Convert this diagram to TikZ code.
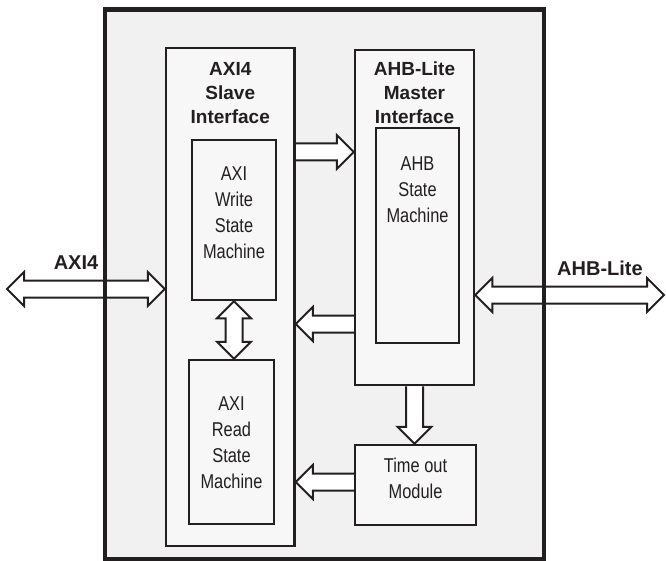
\documentclass[tikz,border=0pt]{standalone}
\usepackage{fontspec}
\setmainfont{Liberation Sans}
\newfontfamily\narrowsf[FakeStretch=0.82]{Liberation Sans}
\usetikzlibrary{calc,positioning}

\definecolor{chipgray}{HTML}{F1F1F1}
\definecolor{boxgray}{HTML}{F7F7F7}
\definecolor{ink}{HTML}{231F20}

\pgfdeclarelayer{back}
\pgfdeclarelayer{arrows}
\pgfsetlayers{back,arrows,main}

\tikzset{
  block/.style={draw=ink, line width=2.5pt, fill=boxgray, inner sep=0pt},
  title/.style={font=\fontsize{19}{24}\selectfont\bfseries, align=center, inner sep=0pt, text=ink},
  smtext/.style={font=\narrowsf\fontsize{20}{26}\selectfont, align=center, inner sep=0pt, text=ink},
  extlabel/.style={font=\fontsize{20}{24}\selectfont\bfseries, inner sep=0pt, text=ink},
  fat/.style={draw=ink, line width=2pt, fill=white, line join=miter}
}

% block arrow, head at #2
\newcommand{\fatarrow}[2]{%
  \coordinate (hb) at ($(#2)!17pt!(#1)$);
  \filldraw[fat] ($(#1)!8.5pt!90:(#2)$) -- ($(hb)!8.5pt!90:(#2)$) -- ($(hb)!17pt!90:(#2)$) -- (#2)
    -- ($(hb)!17pt!-90:(#2)$) -- ($(hb)!8.5pt!-90:(#2)$) -- ($(#1)!8.5pt!-90:(#2)$);}
% block arrow, heads at both ends
\newcommand{\fatdarrow}[2]{%
  \coordinate (ha) at ($(#1)!17pt!(#2)$);
  \coordinate (hb) at ($(#2)!17pt!(#1)$);
  \filldraw[fat] (#1) -- ($(ha)!17pt!90:(#2)$) -- ($(ha)!8.5pt!90:(#2)$) -- ($(hb)!8.5pt!90:(#2)$)
    -- ($(hb)!17pt!90:(#2)$) -- (#2) -- ($(hb)!17pt!-90:(#2)$) -- ($(hb)!8.5pt!-90:(#2)$)
    -- ($(ha)!8.5pt!-90:(#2)$) -- ($(ha)!17pt!-90:(#2)$) -- cycle;}

\begin{document}
\begin{tikzpicture}[x=1pt,y=-1pt]
\useasboundingbox (0,0) rectangle (666,561);
\node[draw=ink, line width=4.5pt, minimum width=439pt, minimum height=549.5pt, inner sep=0pt] (chip) at (324.5,284.3) {};
\node[block, minimum width=128.5pt, minimum height=498pt] (slave)   at (230.25,297) {};
\node[block, minimum width=84pt,  minimum height=160pt]   (wsm)     at (234,220) {};
\node[block, minimum width=85pt,  minimum height=164pt]   (rsm)     at (231.5,442) {};
\node[block, minimum width=119pt, minimum height=335pt]   (master)  at (414.5,217.5) {};
\node[block, minimum width=83pt,  minimum height=215pt]   (ahbsm)   at (417.5,235.5) {};
\node[block, minimum width=121pt, minimum height=80pt]    (timeout) at (415.5,485) {};

\node[title, below=15pt of slave.north]  (slavetitle)  {AXI4\\Slave\\Interface};
\node[title, below=13pt of master.north] (mastertitle) {AHB-Lite\\Master\\Interface};
\node[smtext, below=28pt of wsm.north]     (wsmtext)     {AXI\\Write\\State\\Machine};
\node[smtext, below=38pt of rsm.north]     (rsmtext)     {AXI\\Read\\State\\Machine};
\node[smtext, below=30pt of ahbsm.north]   (ahbsmtext)   {AHB\\State\\Machine};
\node[smtext, below=14pt of timeout.north] (timeouttext) {Time out\\Module};

\node[extlabel] (axilbl) at (76,263) {AXI4};
\node[extlabel] (ahblbl) at (600,268) {AHB-Lite};

\coordinate (axiA) at (7,289);
\coordinate (axiB) at (slave.west |- 0,289);
\coordinate (ahbA) at (master.east |- 0,295);
\coordinate (ahbB) at (664,295);
\coordinate (s2mA) at (slave.east |- 0,152);
\coordinate (s2mB) at (master.west |- 0,152);
\coordinate (m2sA) at (master.west |- 0,324);
\coordinate (m2sB) at (slave.east |- 0,324);
\coordinate (wrA) at (wsm.south);
\coordinate (wrB) at (wsm.south |- rsm.north);
\coordinate (mtA) at (master.south);
\coordinate (mtB) at (master.south |- timeout.north);
\coordinate (t2sA) at (timeout.west |- 0,482);
\coordinate (t2sB) at (slave.east |- 0,482);

\fatdarrow{wrA}{wrB}

\begin{pgfonlayer}{back}
\fill[chipgray] (chip.north west) rectangle (chip.south east);
\end{pgfonlayer}
\begin{pgfonlayer}{arrows}
\fatdarrow{axiA}{axiB}
\fatdarrow{ahbA}{ahbB}
\fatarrow{s2mA}{s2mB}
\fatarrow{m2sA}{m2sB}
\fatarrow{mtA}{mtB}
\fatarrow{t2sA}{t2sB}
\end{pgfonlayer}
\end{tikzpicture}
\end{document}
